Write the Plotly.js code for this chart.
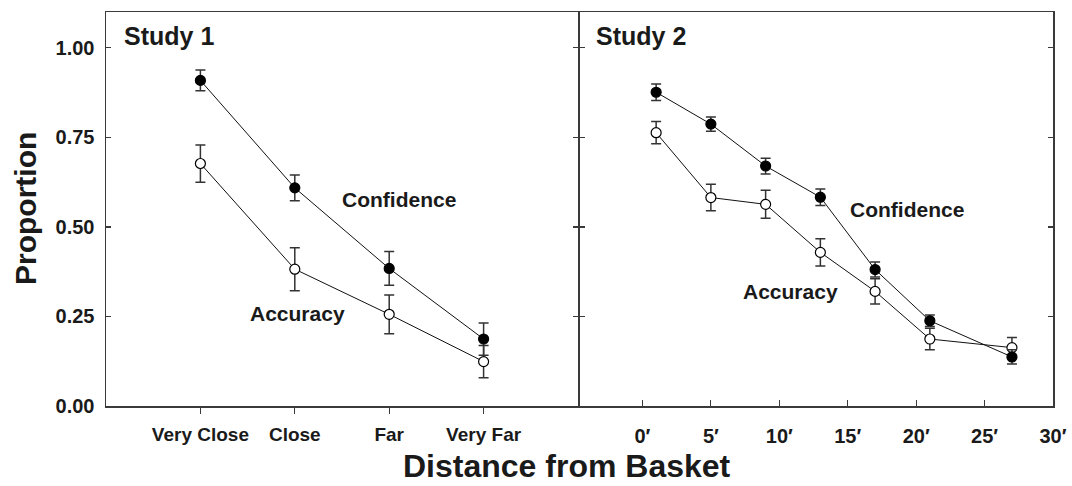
<!DOCTYPE html>
<html>
<head>
<meta charset="utf-8">
<script src="https://cdn.plot.ly/plotly-3.0.1.min.js"></script>
<style>html,body{margin:0;padding:0;background:#fff;}#chart{width:1072px;height:486px;}</style>
</head>
<body>
<div id="chart"></div>
<script>
// Study 1 (categorical distances)
const study1Categories = ["Very Close", "Close", "Far", "Very Far"];
const study1Positions = [1, 2, 3, 4];
const study1Confidence = [0.909, 0.609, 0.384, 0.187];
const study1ConfidenceErr = [0.029, 0.036, 0.047, 0.045];
const study1Accuracy = [0.677, 0.382, 0.256, 0.124];
const study1AccuracyErr = [0.052, 0.060, 0.054, 0.045];

// Study 2 (distance in feet)
const study2Distances = [1, 5, 9, 13, 17, 21, 27];
const study2Confidence = [0.876, 0.787, 0.670, 0.583, 0.381, 0.238, 0.137];
const study2ConfidenceErr = [0.023, 0.020, 0.022, 0.023, 0.021, 0.016, 0.020];
const study2Accuracy = [0.763, 0.582, 0.563, 0.429, 0.320, 0.187, 0.163];
const study2AccuracyErr = [0.031, 0.037, 0.039, 0.038, 0.035, 0.030, 0.028];

const study2TickVals = [0, 5, 10, 15, 20, 25, 30];
const study2TickText = ["0′", "5′", "10′", "15′", "20′", "25′", "30′"];
const yTickVals = [0, 0.25, 0.5, 0.75, 1.0];
const yTickText = ["0.00", "0.25", "0.50", "0.75", "1.00"];

const FONT = "Liberation Sans, Arial, sans-serif";
const INK = "#1a1a1a";
const LINE = "#3a3a3a";

function series(x, y, err, filled, xa, ya) {
  return {
    type: "scatter", mode: "lines+markers", x: x, y: y,
    xaxis: xa, yaxis: ya,
    line: {color: "#111", width: 1},
    marker: {size: 10, symbol: "circle", color: filled ? "#000" : "#fff",
             line: {color: "#000", width: 1.2}},
    error_y: {type: "data", array: err, visible: true, color: "#333", thickness: 1.5, width: 5},
    hoverinfo: "skip", showlegend: false, cliponaxis: false
  };
}

const data = [
  series(study1Positions, study1Accuracy, study1AccuracyErr, false, "x", "y"),
  series(study1Positions, study1Confidence, study1ConfidenceErr, true, "x", "y"),
  series(study2Distances, study2Accuracy, study2AccuracyErr, false, "x2", "y2"),
  series(study2Distances, study2Confidence, study2ConfidenceErr, true, "x2", "y2")
];

const split = 472 / 947;
const split2 = 473.5 / 947;
const axisFont = {family: FONT, size: 20, color: INK, weight: "bold"};

const layout = {
  width: 1072, height: 486,
  margin: {l: 106, r: 19, t: 12, b: 80},
  paper_bgcolor: "#fff", plot_bgcolor: "#fff",
  font: {family: FONT, color: INK},
  xaxis: {
    domain: [0, split], range: [0, 5], anchor: "y",
    tickvals: study1Positions, ticktext: study1Categories,
    ticks: "outside", ticklen: 6, tickcolor: LINE, tickwidth: 1.2,
    showline: true, linecolor: LINE, linewidth: 1.5, mirror: true,
    showgrid: false, zeroline: false, tickfont: {family: FONT, size: 19, color: INK, weight: "bold"},
    ticklabelstandoff: 5
  },
  xaxis2: {
    domain: [split2, 1], range: [-4.6, 30], anchor: "y2",
    tickvals: study2TickVals, ticktext: study2TickText,
    ticks: "inside", ticklen: 6, tickcolor: LINE, tickwidth: 1.2,
    showline: true, linecolor: LINE, linewidth: 1.5, mirror: true,
    showgrid: false, zeroline: false, tickfont: axisFont,
    ticklabelstandoff: 11
  },
  yaxis: {
    domain: [0, 1], range: [0, 1.1], anchor: "x",
    tickvals: yTickVals, ticktext: yTickText,
    ticks: "inside", ticklen: 5, tickcolor: LINE, tickwidth: 1.2,
    showline: true, linecolor: LINE, linewidth: 1.5, mirror: "ticks",
    showgrid: false, zeroline: false, tickfont: axisFont,
    ticklabelstandoff: 6
  },
  yaxis2: {
    domain: [0, 1], range: [0, 1.1], anchor: "x2",
    tickvals: yTickVals, showticklabels: false,
    ticks: "inside", ticklen: 5, tickcolor: LINE, tickwidth: 1.2,
    showline: true, linecolor: LINE, linewidth: 1.5, mirror: "ticks",
    showgrid: false, zeroline: false
  },
  annotations: [
    {text: "Study 1", xref: "x", yref: "y", x: 0.67, y: 1.034, showarrow: false,
     font: {family: FONT, size: 25, color: INK, weight: "bold"}},
    {text: "Study 2", xref: "x2", yref: "y2", x: -0.1, y: 1.034, showarrow: false,
     font: {family: FONT, size: 25, color: INK, weight: "bold"}},
    {text: "Confidence", xref: "x", yref: "y", x: 3.10, y: 0.577, showarrow: false,
     font: {family: FONT, size: 21, color: INK, weight: "bold"}},
    {text: "Accuracy", xref: "x", yref: "y", x: 2.03, y: 0.259, showarrow: false,
     font: {family: FONT, size: 21, color: INK, weight: "bold"}},
    {text: "Confidence", xref: "x2", yref: "y2", x: 19.36, y: 0.549, showarrow: false,
     font: {family: FONT, size: 21, color: INK, weight: "bold"}},
    {text: "Accuracy", xref: "x2", yref: "y2", x: 10.82, y: 0.321, showarrow: false,
     font: {family: FONT, size: 21, color: INK, weight: "bold"}},
    {text: "Distance from Basket", xref: "paper", yref: "paper", x: 0.4868, y: -0.152,
     xanchor: "center", yanchor: "middle", showarrow: false,
     font: {family: FONT, size: 32, color: INK, weight: "bold"}},
    {text: "Proportion", xref: "paper", yref: "paper", x: -0.0855, y: 0.5,
     xanchor: "center", yanchor: "middle", textangle: -90, showarrow: false,
     font: {family: FONT, size: 30, color: INK, weight: "bold"}}
  ]
};

Plotly.newPlot("chart", data, layout, {staticPlot: true, displayModeBar: false});
</script>
</body>
</html>
